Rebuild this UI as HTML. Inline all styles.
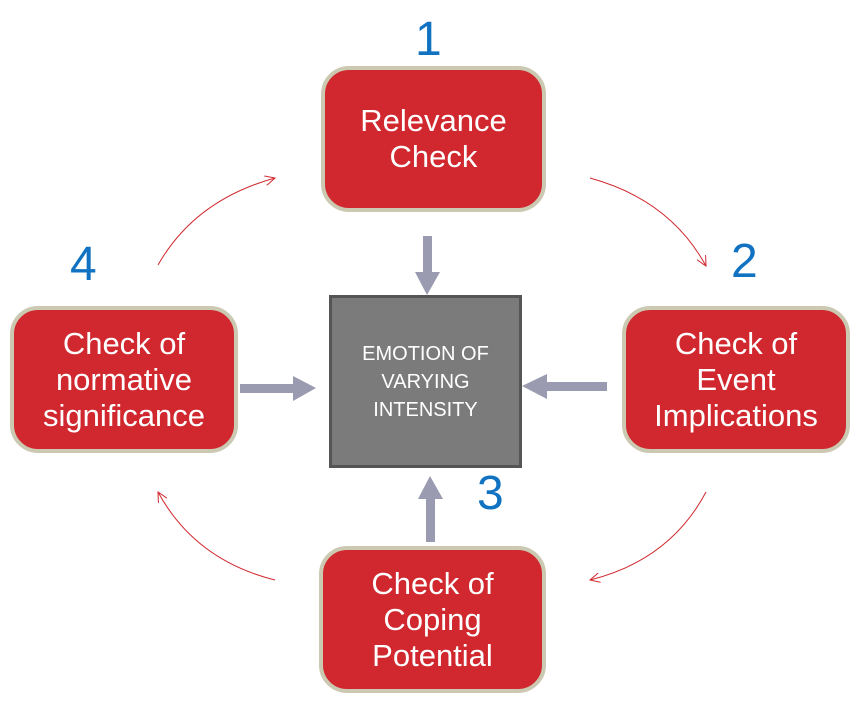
<!DOCTYPE html>
<html><head><style>
body{margin:0;width:860px;height:716px;background:#fff;position:relative;overflow:hidden;font-family:"Liberation Sans","DejaVu Sans",sans-serif}
.b{position:absolute;width:220px;height:140px;background:#d0282e;border:4px solid #cbc9b2;border-radius:28px;box-sizing:border-box;color:#fff;font-size:31px;line-height:36px;display:flex;align-items:center;justify-content:center;text-align:center}
.n{position:absolute;color:#1172c2;font-size:48px;line-height:48px}
.c{position:absolute;left:329px;top:295px;width:193px;height:173px;background:#7b7b7b;border:3px solid #555;box-sizing:border-box;color:#fff;font-size:20px;line-height:28px;display:flex;align-items:center;justify-content:center;text-align:center}
</style></head><body>
<div class="b" style="left:321px;top:66px;width:225px;height:146px">Relevance<br>Check</div>
<div class="b" style="left:622px;top:306px;width:228px;height:147px">Check of<br>Event<br>Implications</div>
<div class="b" style="left:10px;top:306px;width:228px;height:147px">Check of<br>normative<br>significance</div>
<div class="b" style="left:319px;top:546px;width:227px;height:147px">Check of<br>Coping<br>Potential</div>
<div class="c">EMOTION OF<br>VARYING<br>INTENSITY</div>
<div class="n" style="left:415px;top:16px">1</div>
<div class="n" style="left:731px;top:238px">2</div>
<div class="n" style="left:477px;top:470px">3</div>
<div class="n" style="left:70px;top:241px">4</div>
<svg width="860" height="716" style="position:absolute;left:0;top:0">
<defs>
<marker id="r" markerWidth="12" markerHeight="10" refX="10" refY="5" orient="auto" markerUnits="userSpaceOnUse"><path d="M0,0 L10,5 L0,10" fill="none" stroke="#d0282e" stroke-width="1"/></marker>
</defs>
<g stroke="#d0282e" stroke-width="1" fill="none" marker-end="url(#r)">
<path d="M590,178 Q670,200 706,266"/>
<path d="M706,492 Q670,560 590,580"/>
<path d="M275,580 Q195,560 158,492"/>
<path d="M158,265 Q195,200 275,178"/>
</g>
<g fill="#9a9ab0">
<rect x="423" y="236" width="9" height="38"/><polygon points="415,272 440,272 427,295"/>
<rect x="240" y="384" width="55" height="9"/><polygon points="293,376 293,401 316,388"/>
<rect x="545" y="382" width="62" height="9"/><polygon points="547,374 547,399 522,386"/>
<rect x="426" y="497" width="9" height="45"/><polygon points="418,499 443,499 430,476"/>
</g>
</svg>
</body></html>
